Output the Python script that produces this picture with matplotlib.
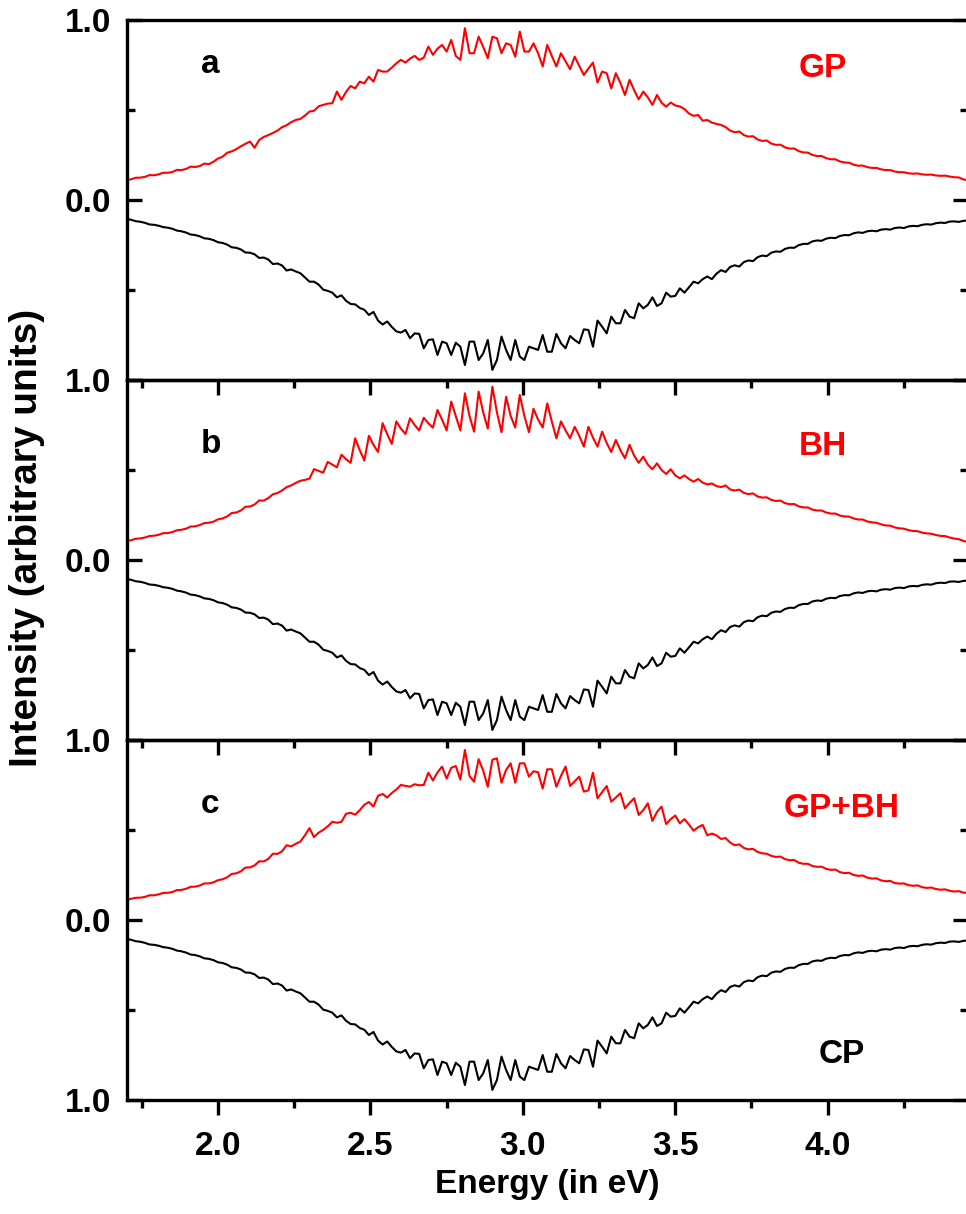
import numpy as np
import matplotlib.pyplot as plt
from matplotlib.ticker import MultipleLocator

plt.rcParams['font.family'] = ['Liberation Sans', 'DejaVu Sans']
plt.rcParams['font.weight'] = 'bold'

# photon energy (eV)
energy = [1.700, 1.715, 1.730, 1.745, 1.760, 1.775, 1.790, 1.805, 1.820, 1.835,
          1.850, 1.865, 1.880, 1.895, 1.910, 1.925, 1.940, 1.955, 1.970, 1.985,
          2.000, 2.015, 2.030, 2.045, 2.060, 2.075, 2.090, 2.105, 2.120, 2.135,
          2.150, 2.165, 2.180, 2.195, 2.210, 2.225, 2.240, 2.255, 2.270, 2.285,
          2.300, 2.315, 2.330, 2.345, 2.360, 2.375, 2.390, 2.405, 2.420, 2.435,
          2.450, 2.465, 2.480, 2.495, 2.510, 2.525, 2.540, 2.555, 2.570, 2.585,
          2.600, 2.615, 2.630, 2.645, 2.660, 2.675, 2.690, 2.705, 2.720, 2.735,
          2.750, 2.765, 2.780, 2.795, 2.810, 2.825, 2.840, 2.855, 2.870, 2.885,
          2.900, 2.915, 2.930, 2.945, 2.960, 2.975, 2.990, 3.005, 3.020, 3.035,
          3.050, 3.065, 3.080, 3.095, 3.110, 3.125, 3.140, 3.155, 3.170, 3.185,
          3.200, 3.215, 3.230, 3.245, 3.260, 3.275, 3.290, 3.305, 3.320, 3.335,
          3.350, 3.365, 3.380, 3.395, 3.410, 3.425, 3.440, 3.455, 3.470, 3.485,
          3.500, 3.515, 3.530, 3.545, 3.560, 3.575, 3.590, 3.605, 3.620, 3.635,
          3.650, 3.665, 3.680, 3.695, 3.710, 3.725, 3.740, 3.755, 3.770, 3.785,
          3.800, 3.815, 3.830, 3.845, 3.860, 3.875, 3.890, 3.905, 3.920, 3.935,
          3.950, 3.965, 3.980, 3.995, 4.010, 4.025, 4.040, 4.055, 4.070, 4.085,
          4.100, 4.115, 4.130, 4.145, 4.160, 4.175, 4.190, 4.205, 4.220, 4.235,
          4.250, 4.265, 4.280, 4.295, 4.310, 4.325, 4.340, 4.355, 4.370, 4.385,
          4.400, 4.415, 4.430, 4.445, 4.460]

# CP spectrum, plotted downwards
cp = [-0.105, -0.110, -0.118, -0.121, -0.127, -0.136, -0.138, -0.143, -0.151, -0.154,
      -0.160, -0.170, -0.174, -0.181, -0.192, -0.195, -0.202, -0.213, -0.216, -0.223,
      -0.235, -0.239, -0.248, -0.263, -0.266, -0.275, -0.292, -0.293, -0.302, -0.322,
      -0.320, -0.331, -0.356, -0.353, -0.364, -0.392, -0.386, -0.397, -0.407, -0.430,
      -0.454, -0.454, -0.470, -0.498, -0.505, -0.515, -0.541, -0.530, -0.560, -0.578,
      -0.580, -0.600, -0.610, -0.639, -0.622, -0.670, -0.692, -0.675, -0.705, -0.730,
      -0.737, -0.722, -0.768, -0.741, -0.744, -0.824, -0.778, -0.774, -0.861, -0.787,
      -0.796, -0.861, -0.793, -0.815, -0.917, -0.787, -0.787, -0.889, -0.852, -0.778,
      -0.944, -0.889, -0.759, -0.833, -0.889, -0.778, -0.870, -0.889, -0.815, -0.824,
      -0.833, -0.750, -0.843, -0.843, -0.744, -0.796, -0.824, -0.756, -0.778, -0.796,
      -0.719, -0.722, -0.815, -0.670, -0.704, -0.741, -0.648, -0.685, -0.685, -0.611,
      -0.648, -0.657, -0.574, -0.602, -0.583, -0.541, -0.589, -0.574, -0.515, -0.537,
      -0.533, -0.491, -0.515, -0.485, -0.454, -0.463, -0.440, -0.425, -0.440, -0.410,
      -0.390, -0.400, -0.372, -0.363, -0.370, -0.345, -0.336, -0.340, -0.318, -0.309,
      -0.312, -0.293, -0.286, -0.288, -0.272, -0.265, -0.266, -0.251, -0.244, -0.244,
      -0.230, -0.225, -0.227, -0.215, -0.210, -0.212, -0.200, -0.195, -0.196, -0.185,
      -0.180, -0.183, -0.174, -0.171, -0.174, -0.165, -0.162, -0.165, -0.156, -0.153,
      -0.156, -0.147, -0.144, -0.146, -0.138, -0.135, -0.137, -0.129, -0.126, -0.128,
      -0.120, -0.119, -0.122, -0.116, -0.115]

gp = [0.110, 0.115, 0.123, 0.124, 0.128, 0.138, 0.137, 0.142, 0.151, 0.151,
      0.155, 0.167, 0.166, 0.172, 0.185, 0.183, 0.188, 0.202, 0.199, 0.212,
      0.230, 0.240, 0.262, 0.270, 0.282, 0.298, 0.312, 0.324, 0.290, 0.333,
      0.350, 0.360, 0.372, 0.385, 0.404, 0.415, 0.432, 0.444, 0.450, 0.468,
      0.491, 0.495, 0.520, 0.528, 0.535, 0.537, 0.602, 0.556, 0.600, 0.633,
      0.620, 0.657, 0.648, 0.685, 0.657, 0.722, 0.713, 0.713, 0.735, 0.759,
      0.778, 0.763, 0.785, 0.800, 0.778, 0.790, 0.852, 0.806, 0.840, 0.861,
      0.824, 0.889, 0.800, 0.778, 0.954, 0.815, 0.815, 0.907, 0.850, 0.787,
      0.907, 0.898, 0.815, 0.870, 0.861, 0.796, 0.935, 0.824, 0.824, 0.870,
      0.815, 0.741, 0.861, 0.800, 0.741, 0.815, 0.770, 0.726, 0.796, 0.745,
      0.694, 0.730, 0.763, 0.652, 0.713, 0.704, 0.620, 0.704, 0.650, 0.583,
      0.667, 0.610, 0.559, 0.602, 0.570, 0.528, 0.583, 0.540, 0.518, 0.541,
      0.525, 0.519, 0.505, 0.480, 0.467, 0.472, 0.440, 0.444, 0.430, 0.422,
      0.417, 0.405, 0.385, 0.376, 0.380, 0.360, 0.352, 0.354, 0.336, 0.328,
      0.330, 0.313, 0.306, 0.307, 0.292, 0.285, 0.286, 0.271, 0.264, 0.263,
      0.250, 0.244, 0.244, 0.232, 0.226, 0.226, 0.214, 0.208, 0.207, 0.196,
      0.190, 0.191, 0.182, 0.178, 0.178, 0.170, 0.166, 0.166, 0.158, 0.154,
      0.154, 0.148, 0.146, 0.147, 0.142, 0.140, 0.141, 0.136, 0.134, 0.135,
      0.130, 0.126, 0.125, 0.114, 0.110]

bh = [0.105, 0.110, 0.118, 0.120, 0.125, 0.133, 0.135, 0.140, 0.149, 0.150,
      0.155, 0.165, 0.168, 0.174, 0.186, 0.187, 0.194, 0.205, 0.207, 0.213,
      0.226, 0.231, 0.242, 0.261, 0.264, 0.275, 0.296, 0.297, 0.308, 0.331,
      0.330, 0.344, 0.365, 0.372, 0.386, 0.405, 0.414, 0.428, 0.440, 0.445,
      0.452, 0.505, 0.495, 0.485, 0.545, 0.530, 0.515, 0.585, 0.560, 0.540,
      0.676, 0.610, 0.553, 0.690, 0.640, 0.600, 0.760, 0.700, 0.645, 0.770,
      0.730, 0.700, 0.787, 0.750, 0.720, 0.790, 0.760, 0.735, 0.833, 0.780,
      0.720, 0.880, 0.800, 0.720, 0.926, 0.800, 0.713, 0.935, 0.820, 0.730,
      0.963, 0.820, 0.710, 0.907, 0.800, 0.736, 0.917, 0.800, 0.710, 0.840,
      0.780, 0.736, 0.870, 0.770, 0.676, 0.770, 0.720, 0.676, 0.740, 0.690,
      0.630, 0.740, 0.680, 0.630, 0.713, 0.650, 0.600, 0.667, 0.610, 0.565,
      0.640, 0.580, 0.540, 0.574, 0.530, 0.504, 0.537, 0.500, 0.478, 0.504,
      0.470, 0.454, 0.470, 0.450, 0.435, 0.450, 0.430, 0.420, 0.425, 0.411,
      0.405, 0.414, 0.392, 0.386, 0.391, 0.373, 0.366, 0.370, 0.353, 0.347,
      0.348, 0.334, 0.328, 0.330, 0.316, 0.310, 0.311, 0.298, 0.292, 0.292,
      0.280, 0.275, 0.275, 0.264, 0.258, 0.258, 0.247, 0.242, 0.241, 0.231,
      0.225, 0.225, 0.214, 0.209, 0.207, 0.198, 0.192, 0.191, 0.181, 0.176,
      0.174, 0.166, 0.161, 0.160, 0.152, 0.148, 0.146, 0.139, 0.134, 0.133,
      0.125, 0.119, 0.116, 0.106, 0.100]

gp_bh = [0.110, 0.118, 0.123, 0.124, 0.128, 0.137, 0.137, 0.142, 0.150, 0.151,
         0.155, 0.166, 0.167, 0.173, 0.184, 0.185, 0.191, 0.203, 0.203, 0.209,
         0.221, 0.226, 0.237, 0.256, 0.259, 0.270, 0.291, 0.292, 0.303, 0.326,
         0.325, 0.339, 0.368, 0.367, 0.381, 0.415, 0.409, 0.423, 0.435, 0.470,
         0.510, 0.460, 0.485, 0.500, 0.520, 0.545, 0.540, 0.545, 0.590, 0.595,
         0.585, 0.610, 0.640, 0.655, 0.630, 0.690, 0.700, 0.680, 0.705, 0.725,
         0.750, 0.745, 0.740, 0.754, 0.748, 0.750, 0.818, 0.775, 0.820, 0.852,
         0.785, 0.845, 0.855, 0.780, 0.944, 0.800, 0.768, 0.893, 0.830, 0.740,
         0.890, 0.898, 0.763, 0.833, 0.870, 0.763, 0.870, 0.870, 0.796, 0.826,
         0.820, 0.730, 0.837, 0.837, 0.740, 0.800, 0.852, 0.745, 0.770, 0.796,
         0.713, 0.720, 0.818, 0.676, 0.710, 0.744, 0.657, 0.680, 0.704, 0.620,
         0.650, 0.676, 0.583, 0.610, 0.648, 0.550, 0.600, 0.630, 0.533, 0.560,
         0.580, 0.537, 0.560, 0.530, 0.496, 0.515, 0.528, 0.470, 0.480, 0.470,
         0.450, 0.455, 0.430, 0.415, 0.420, 0.400, 0.392, 0.395, 0.378, 0.370,
         0.368, 0.356, 0.350, 0.352, 0.338, 0.332, 0.333, 0.318, 0.312, 0.312,
         0.300, 0.295, 0.296, 0.284, 0.278, 0.280, 0.266, 0.260, 0.262, 0.250,
         0.245, 0.247, 0.235, 0.230, 0.231, 0.220, 0.215, 0.217, 0.205, 0.202,
         0.203, 0.193, 0.190, 0.192, 0.182, 0.178, 0.180, 0.172, 0.168, 0.170,
         0.162, 0.158, 0.160, 0.152, 0.150]

red_curves = [gp, bh, gp_bh]
panel_tags = ['a', 'b', 'c']
red_names = ['GP', 'BH', 'GP+BH']

fig = plt.figure(figsize=(9.66, 12.14), dpi=100)

# panel rectangles in figure fractions (top to bottom)
left, width, h = 0.131, 0.871, 0.2966
bottoms = [0.6870, 0.3904, 0.0939]

for k in range(3):
    ax = fig.add_axes([left, bottoms[k], width, h])
    ax.set_facecolor('none')
    ax.plot(energy, red_curves[k], color='#ff0000', lw=1.5)
    ax.plot(energy, cp, color='black', lw=1.5)

    ax.set_xlim(1.70, 4.46)
    ax.set_ylim(-1, 1)

    ax.xaxis.set_major_locator(MultipleLocator(0.5))
    ax.xaxis.set_minor_locator(MultipleLocator(0.25))
    ax.set_yticks([-1, 0, 1])
    if k == 0:
        ax.set_yticklabels(['1.0', '0.0', '1.0'])
    else:
        ax.set_yticklabels(['1.0', '0.0', ''])
    ax.yaxis.set_minor_locator(MultipleLocator(0.5))

    ax.tick_params(axis='x', which='both', direction='out', width=2.4,
                   labelsize=24, pad=11)
    ax.tick_params(axis='x', which='major', length=11)
    ax.tick_params(axis='x', which='minor', length=5.5)
    ax.tick_params(axis='y', which='both', direction='in', width=2.4,
                   right=True, labelsize=24, pad=11)
    ax.tick_params(axis='y', which='major', length=11)
    ax.tick_params(axis='y', which='minor', length=5.5)
    if k < 2:
        ax.tick_params(axis='x', labelbottom=False)

    for s in ax.spines.values():
        s.set_linewidth(2.4)

    ax.text(1.943, [0.706, 0.594, 0.594][k], panel_tags[k], fontsize=24,
            fontweight='bold', ha='left', va='baseline')
    ax.text([3.906, 3.906, 3.857][k], [0.683, 0.583, 0.572][k], red_names[k],
            color='#ff0000', fontsize=24, fontweight='bold',
            ha='left', va='baseline')

    if k == 2:
        ax.text(3.969, -0.794, 'CP', fontsize=24, fontweight='bold',
                ha='left', va='baseline')
        ax.set_xlabel('Energy (in eV)', fontsize=24, fontweight='bold',
                      labelpad=5)

fig.text(0.028, 0.557, 'Intensity (arbitrary units)', rotation=90,
         fontsize=28, fontweight='bold', ha='center', va='center')

fig.savefig('out.png', dpi=100)
